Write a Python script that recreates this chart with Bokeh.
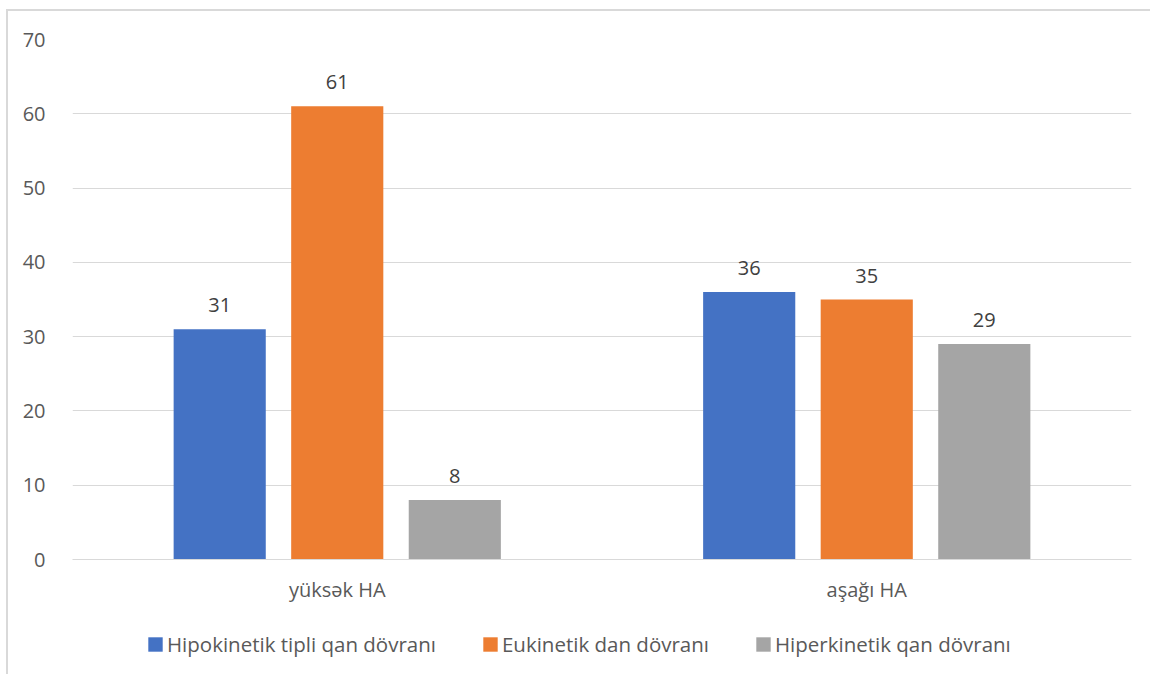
from bokeh.plotting import figure
from bokeh.layouts import column
from bokeh.models import (ColumnDataSource, FactorRange, Range1d, LabelSet,
                          SingleIntervalTicker, Legend, LegendItem)
from bokeh.core.properties import value
from bokeh.transform import dodge
from bokeh.embed import file_html
from bokeh.resources import INLINE

# data
groups = ["yüksək HA", "aşağı HA"]
series = ["Hipokinetik tipli qan dövranı", "Eukinetik dan dövranı", "Hiperkinetik qan dövranı"]
hipokinetik = [31, 36]
eukinetik = [61, 35]
hiperkinetik = [8, 29]
colors = ["#4472C4", "#ED7D31", "#A5A5A5"]

FONT = "Open Sans"
TEXT_GRAY = "#595959"
GRID_GRAY = "#D9D9D9"

source = ColumnDataSource(data=dict(
    group=groups,
    hipo=hipokinetik,
    eu=eukinetik,
    hiper=hiperkinetik,
))

# main chart: frame is 1059 x 520 px
p = figure(
    x_range=FactorRange(factors=groups, range_padding=0),
    y_range=Range1d(0, 70),
    width=1142, height=608,
    min_border_left=64, min_border_right=19, min_border_top=28, min_border_bottom=60,
    output_backend="svg", toolbar_location=None,
)

offsets = [-0.222, 0.0, 0.222]
fields = ["hipo", "eu", "hiper"]
bar_w = 0.174

for off, fld, col in zip(offsets, fields, colors):
    p.vbar(x=dodge("group", off, range=p.x_range), top=fld, width=bar_w,
           source=source, fill_color=col, line_color=None)
    labels = LabelSet(x=dodge("group", off, range=p.x_range), y=fld, text=fld,
                      source=source, text_align="center", text_baseline="alphabetic",
                      y_offset=17, text_font=value(FONT), text_font_size=value("20px"),
                      text_color="#404040")
    p.add_layout(labels)

# axes
p.yaxis.ticker = SingleIntervalTicker(interval=10)
p.yaxis.axis_line_color = None
p.yaxis.major_tick_line_color = None
p.yaxis.minor_tick_line_color = None
p.yaxis.major_tick_out = 0
p.yaxis.major_tick_in = 0
p.yaxis.major_label_standoff = 23
p.yaxis.major_label_text_font = FONT
p.yaxis.major_label_text_font_size = "20px"
p.yaxis.major_label_text_color = TEXT_GRAY

p.xaxis.axis_line_color = GRID_GRAY
p.xaxis.major_tick_line_color = None
p.xaxis.major_tick_out = 0
p.xaxis.major_tick_in = 0
p.xaxis.major_label_standoff = 16
p.xaxis.major_label_text_font = FONT
p.xaxis.major_label_text_font_size = "20px"
p.xaxis.major_label_text_color = TEXT_GRAY

p.xgrid.grid_line_color = None
p.ygrid.grid_line_color = GRID_GRAY
p.ygrid.grid_line_width = 1
p.outline_line_color = None

# legend strip under the chart (its frame lines up with the chart frame)
lg = figure(width=1142, height=55, x_axis_type=None, y_axis_type=None,
            x_range=Range1d(0, 1), y_range=Range1d(0, 1),
            min_border=0, output_backend="svg", toolbar_location=None)
lg.xgrid.grid_line_color = None
lg.ygrid.grid_line_color = None
lg.outline_line_color = None

# zero-height swatch renderers, only used to give the legend its colours
items = []
for col, name in zip(colors, series):
    r = lg.vbar(x=[0.5], top=[0], bottom=[0], width=0.01, fill_color=col, line_color=None)
    items.append(LegendItem(label=name, renderers=[r]))

legend = Legend(items=items, orientation="horizontal", location=(74, 16),
                glyph_width=18, glyph_height=18, label_standoff=3, spacing=45,
                padding=0, margin=0, border_line_color=None,
                background_fill_alpha=0,
                label_text_font=FONT, label_text_font_size="20.5px",
                label_text_color=TEXT_GRAY)
lg.add_layout(legend, "center")

layout = column(p, lg, spacing=0)
layout.styles = {
    "margin-left": "6px", "margin-top": "9px",
    "border-left": "2px solid #D9D9D9", "border-top": "2px solid #D9D9D9",
}

open("out.html", "w").write(file_html(layout, INLINE))
